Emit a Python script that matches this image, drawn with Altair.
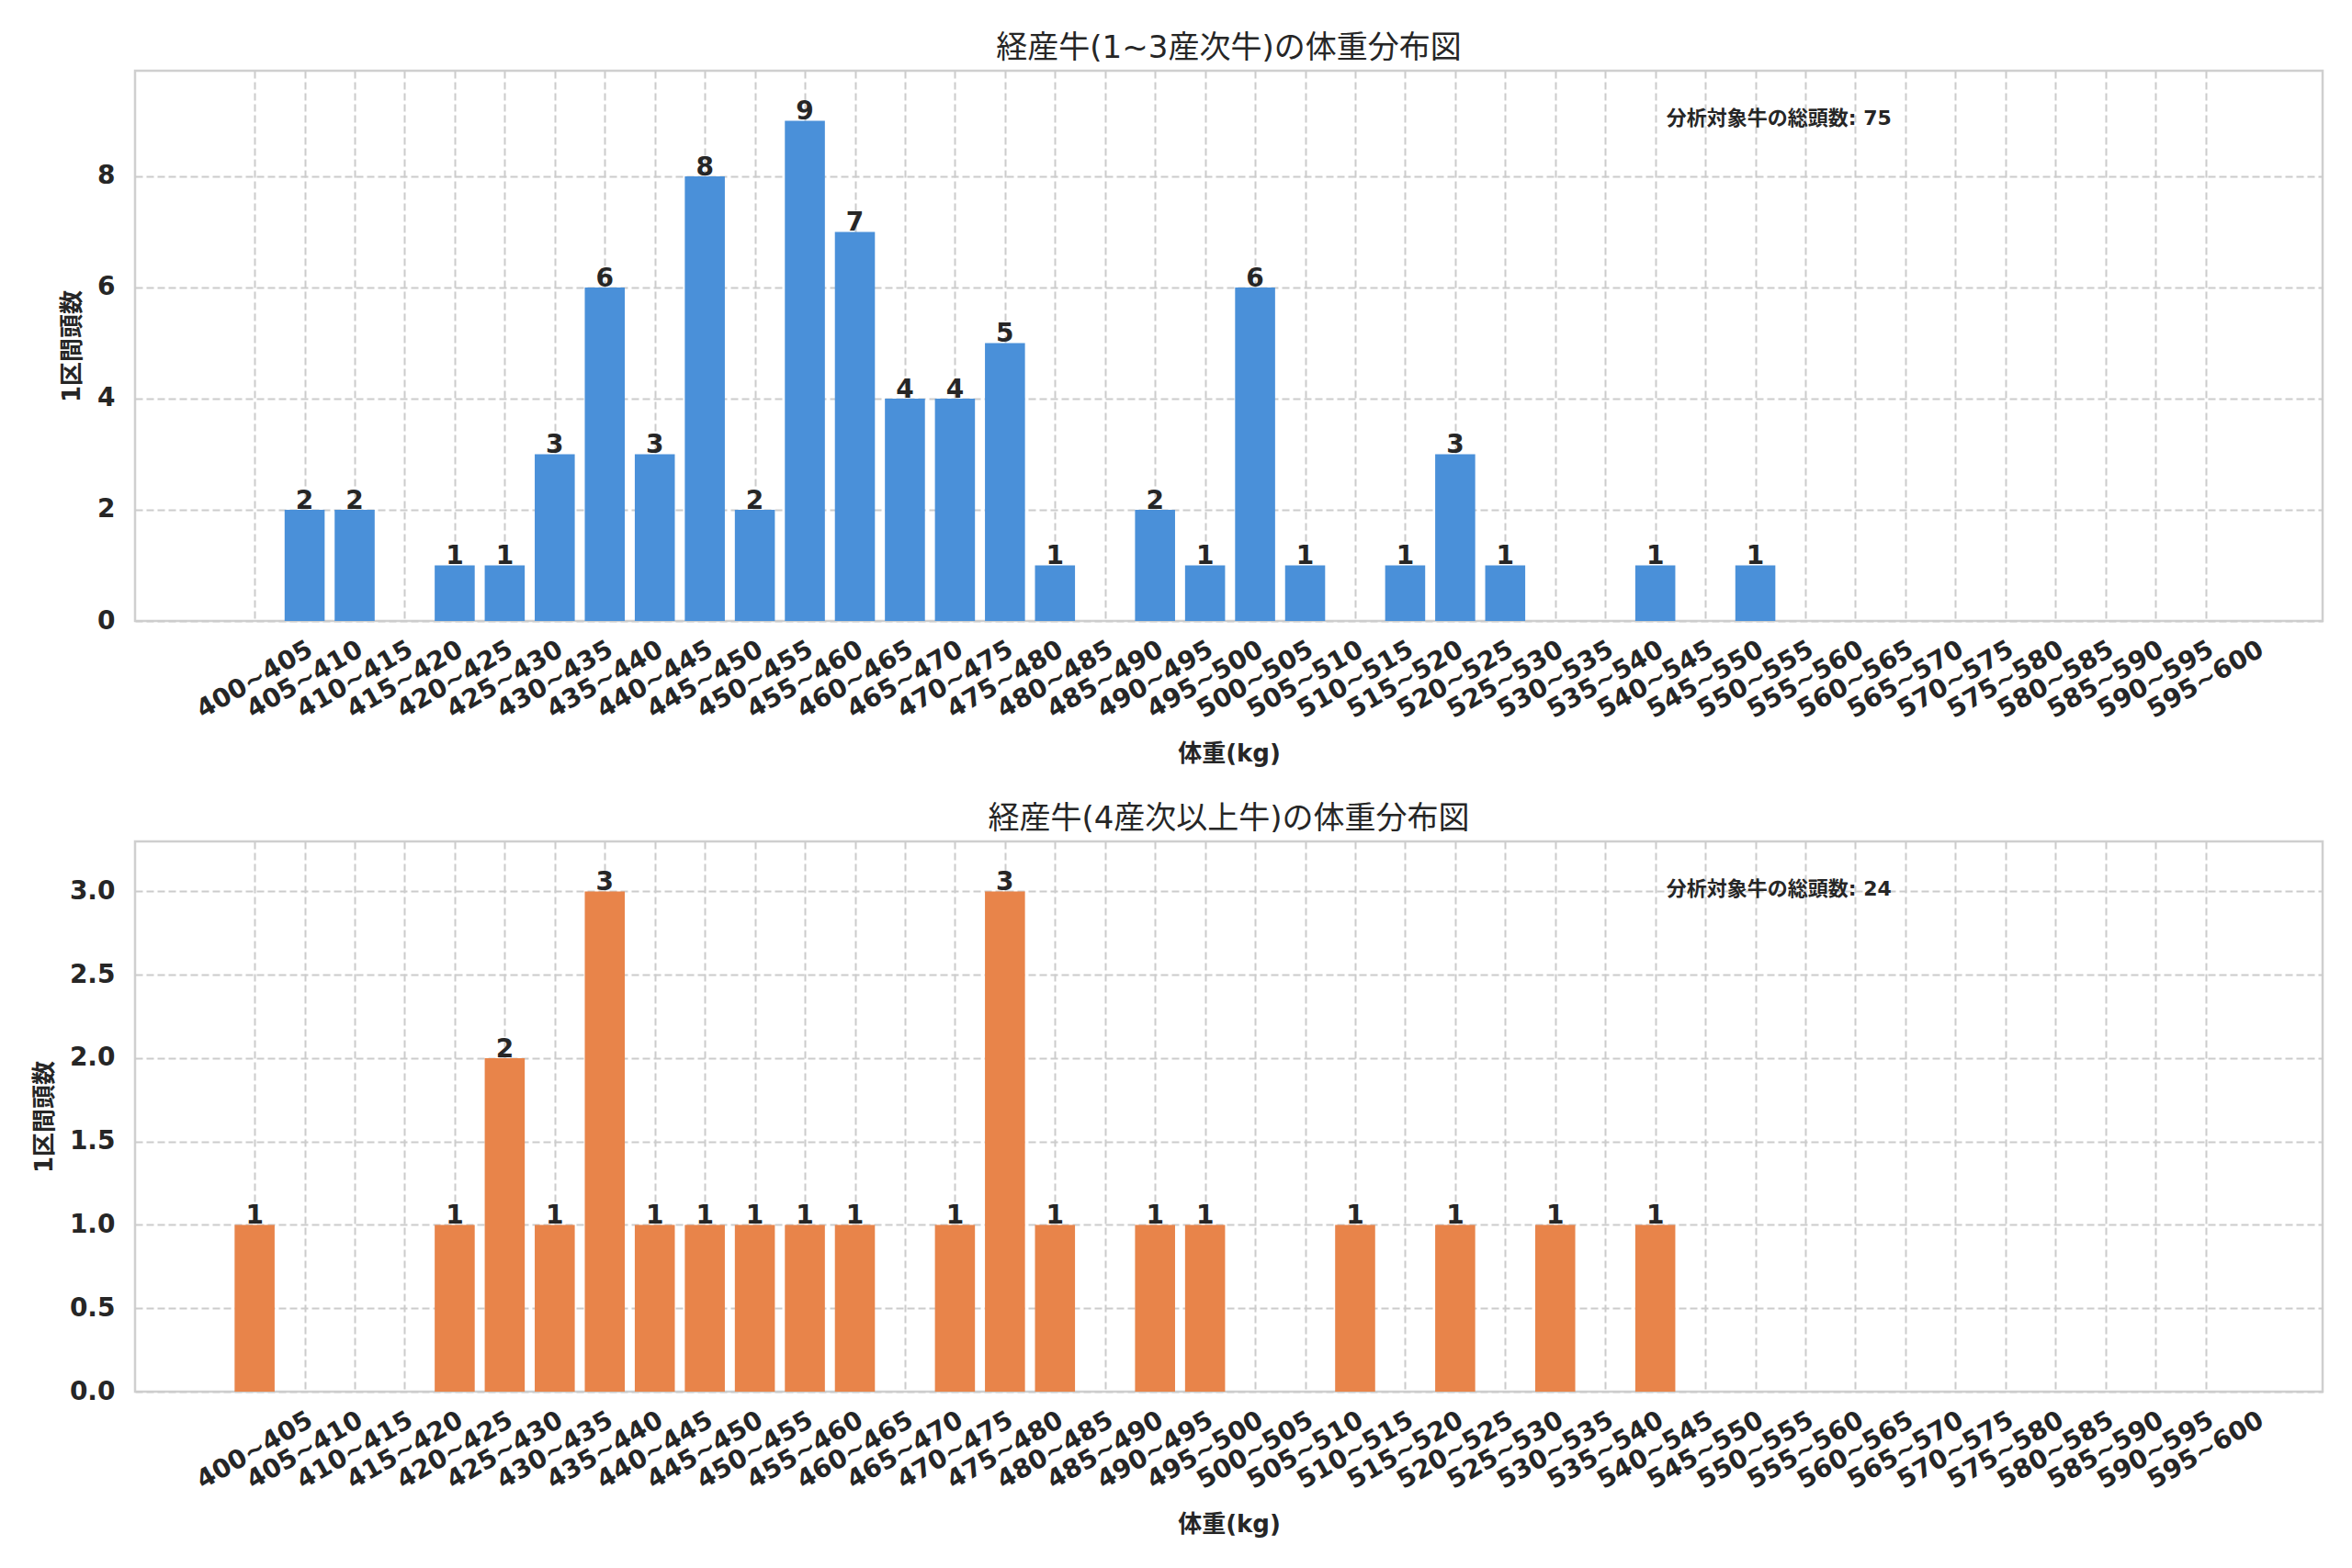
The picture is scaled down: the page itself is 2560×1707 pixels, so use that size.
import altair as alt
import pandas as pd

bins = [f"{400 + 5 * i}~{405 + 5 * i}" for i in range(40)]

counts_young = [0, 2, 2, 0, 1, 1, 3, 6, 3, 8, 2, 9, 7, 4, 4, 5, 1, 0, 2, 1,
                6, 1, 0, 1, 3, 1, 0, 0, 1, 0, 1, 0, 0, 0, 0, 0, 0, 0, 0, 0]
counts_old = [1, 0, 0, 0, 1, 2, 1, 3, 1, 1, 1, 1, 1, 0, 1, 3, 1, 0, 1, 1,
              0, 0, 1, 0, 1, 0, 1, 0, 1, 0, 0, 0, 0, 0, 0, 0, 0, 0, 0, 0]

title_young = "経産牛(1~3産次牛)の体重分布図"
title_old = "経産牛(4産次以上牛)の体重分布図"
x_title = "体重(kg)"
y_title = "1区間頭数"
total_label = "分析対象牛の総頭数"

BLUE = "#4A90D9"
ORANGE = "#E8844A"
TEXT = "#262626"
FONT = "'DejaVu Sans', 'Noto Sans CJK JP', sans-serif"
W, H = 2381, 599

label_array = "[" + ",".join(f"'{b}'" for b in bins) + "]"


def panel(counts, color, title, ymax, yticks, yfmt):
    df = pd.DataFrame({"idx": list(range(len(bins))), "bin": bins, "count": counts})
    df = df[df["count"] > 0]
    total = sum(counts)
    xs = alt.Scale(domain=[-2.39, 41.34], nice=False, zero=False)
    ys = alt.Scale(domain=[0, ymax], nice=False)
    xaxis = alt.Axis(values=list(range(len(bins))), labelExpr=f"{label_array}[datum.value]",
                     title=x_title, labelAngle=-30, labelAlign="center", labelBaseline="middle",
                     labelPadding=64, titlePadding=20, labelOverlap=False)
    yaxis = alt.Axis(values=yticks, format=yfmt, title=y_title, labelPadding=22, titlePadding=14)
    base = alt.Chart(df)
    bars = base.mark_bar(color=color).transform_calculate(
        x0="datum.idx - 0.4", x1="datum.idx + 0.4"
    ).encode(
        x=alt.X("x0:Q", scale=xs, axis=xaxis),
        x2="x1:Q",
        y=alt.Y("count:Q", scale=ys, axis=yaxis),
        y2=alt.datum(0),
    )
    labels = base.mark_text(baseline="alphabetic", align="center", dy=-1, fontSize=28,
                            fontWeight="bold", color=TEXT, font=FONT).encode(
        x=alt.X("idx:Q", scale=xs),
        y=alt.Y("count:Q", scale=ys),
        text="count:Q",
    )
    note = alt.Chart(pd.DataFrame({"t": [f"{total_label}: {total}"]})).mark_text(
        align="left", baseline="middle", fontSize=22, fontWeight="bold", color=TEXT, font=FONT
    ).encode(x=alt.value(0.7 * W), y=alt.value(52), text="t:N")
    return alt.layer(bars, labels, note).properties(
        width=W, height=H,
        title=alt.TitleParams(title, fontSize=34, fontWeight="normal", color=TEXT, font=FONT,
                              anchor="middle", offset=7),
    )


top = panel(counts_young, BLUE, title_young, 9.9, [0, 2, 4, 6, 8], "d")
bottom = panel(counts_old, ORANGE, title_old, 3.3, [0, 0.5, 1.0, 1.5, 2.0, 2.5, 3.0], ".1f")

chart = alt.vconcat(top, bottom, spacing=240, bounds="flush").properties(
    padding={"left": 26, "top": 26, "right": 10, "bottom": 10},
    background="white",
).configure_view(
    stroke="#cfcfcf", strokeWidth=2.5
).configure_axis(
    grid=True, gridColor="#cccccc", gridDash=[8, 4], gridWidth=2,
    ticks=False, tickSize=0, domain=False,
    labelFont=FONT, labelFontSize=28, labelFontWeight="bold", labelColor=TEXT,
    titleFont=FONT, titleFontSize=26, titleFontWeight="bold", titleColor=TEXT,
)

chart.save("out.html", embed_options={"renderer": "svg", "actions": False})
